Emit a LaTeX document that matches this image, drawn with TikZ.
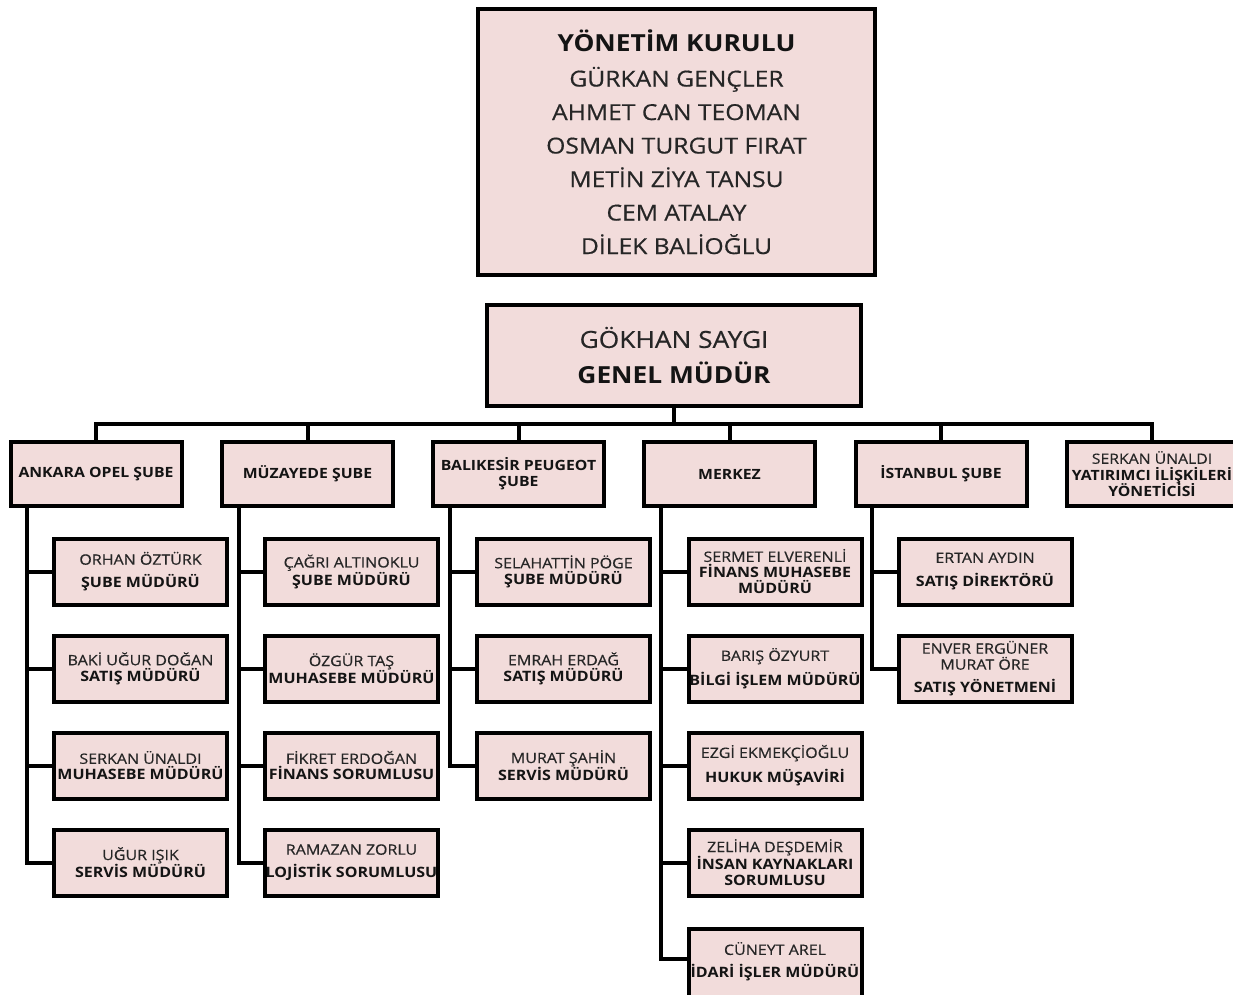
\documentclass[tikz,border=0pt]{standalone}
\usepackage{fontspec}
\setmainfont{Open Sans}[FakeStretch=1.12]
\definecolor{boxfill}{HTML}{F2DCDB}
\definecolor{nametext}{HTML}{262626}
\definecolor{titletext}{HTML}{141414}
\newcommand\pname[1]{{\addfontfeature{FakeBold=0.5}\color{nametext}#1}}
\newcommand\ptitle[1]{{\bfseries #1}}
\begin{document}
\begin{tikzpicture}[x=1pt,y=-1pt,
  box/.style={draw=black, line width=4pt, fill=boxfill, inner sep=0pt, align=center, text=titletext},
  topbox/.style={box, minimum width=397pt, minimum height=266pt, font=\fontsize{22}{33.5}\selectfont},
  gmbox/.style={box, minimum width=374pt, minimum height=101pt, font=\fontsize{23.5}{36}\selectfont},
  unitbox/.style={box, minimum width=171pt, minimum height=64pt, font=\fontsize{14.1}{16}\selectfont\bfseries},
  staffbox/.style={box, minimum width=173pt, minimum height=66pt, font=\fontsize{14.3}{16}\selectfont},
  conn/.style={draw=black, line width=4pt}]
\useasboundingbox (0,0) rectangle (1233,994);
\fill[white] (0,0) rectangle (1233,994);

% board
\node[topbox] (board) at (676.5,142) {{\fontsize{23.5}{33.5}\selectfont\ptitle{YÖNETİM KURULU}}\\[1.5pt]
  \pname{GÜRKAN GENÇLER}\\ \pname{AHMET CAN TEOMAN}\\ \pname{OSMAN TURGUT FIRAT}\\
  \pname{METİN ZİYA TANSU}\\ \pname{CEM ATALAY}\\ \pname{DİLEK BALİOĞLU}};

% general manager
\node[gmbox] (gm) at (674,355.5) {\pname{GÖKHAN SAYGI}\\ \ptitle{GENEL MÜDÜR}};

% units
\node[unitbox] (ank) at (96,474) {ANKARA OPEL ŞUBE};
\node[unitbox] (muz) at (307.5,474) {MÜZAYEDE ŞUBE};
\node[unitbox] (bal) at (518.5,474) {BALIKESİR PEUGEOT\\ŞUBE};
\node[unitbox] (mer) at (729.5,474) {MERKEZ};
\node[unitbox] (ist) at (941,474) {İSTANBUL ŞUBE};
\node[unitbox] (srk) at (1152,474) {\pname{\mdseries SERKAN ÜNALDI}\\[0.5pt]YATIRIMCI İLİŞKİLERİ\\[-1pt]YÖNETİCİSİ};

% Ankara staff
\node[staffbox] (a1) at (140.5,571.5) {\pname{ORHAN ÖZTÜRK}\\[7pt]\ptitle{ŞUBE MÜDÜRÜ}};
\node[staffbox] (a2) at (140.5,668.5) {\pname{BAKİ UĞUR DOĞAN}\\\ptitle{SATIŞ MÜDÜRÜ}};
\node[staffbox] (a3) at (140.5,765.5) {\pname{SERKAN ÜNALDI}\\\ptitle{MUHASEBE MÜDÜRÜ}};
\node[staffbox] (a4) at (140.5,862.5) {\pname{UĞUR IŞIK}\\\ptitle{SERVİS MÜDÜRÜ}};

% Muzayede staff
\node[staffbox] (m1) at (351.5,571.5) {\pname{ÇAĞRI ALTINOKLU}\\\ptitle{ŞUBE MÜDÜRÜ}};
\node[staffbox] (m2) at (351.5,668.5) {\pname{ÖZGÜR TAŞ}\\\ptitle{MUHASEBE MÜDÜRÜ}};
\node[staffbox] (m3) at (351.5,765.5) {\pname{FİKRET ERDOĞAN}\\\ptitle{FİNANS SORUMLUSU}};
\node[staffbox] (m4) at (351.5,862.5) {\pname{RAMAZAN ZORLU}\\[7pt]\ptitle{LOJİSTİK SORUMLUSU}};

% Balikesir staff
\node[staffbox] (b1) at (563.5,571.5) {\pname{SELAHATTİN PÖGE}\\\ptitle{ŞUBE MÜDÜRÜ}};
\node[staffbox] (b2) at (563.5,668.5) {\pname{EMRAH ERDAĞ}\\\ptitle{SATIŞ MÜDÜRÜ}};
\node[staffbox] (b3) at (563.5,765.5) {\pname{MURAT ŞAHİN}\\\ptitle{SERVİS MÜDÜRÜ}};

% Merkez staff
\node[staffbox] (c1) at (775,571.5) {\pname{SERMET ELVERENLİ}\\\ptitle{FİNANS MUHASEBE}\\\ptitle{MÜDÜRÜ}};
\node[staffbox] (c2) at (775,668.5) {\pname{BARIŞ ÖZYURT}\\[7pt]\ptitle{BİLGİ İŞLEM MÜDÜRÜ}};
\node[staffbox] (c3) at (775,765.5) {\pname{EZGİ EKMEKÇİOĞLU}\\[7pt]\ptitle{HUKUK MÜŞAVİRİ}};
\node[staffbox] (c4) at (775,862.5) {\pname{ZELİHA DEŞDEMİR}\\\ptitle{İNSAN KAYNAKLARI}\\\ptitle{SORUMLUSU}};
\node[staffbox, minimum height=74pt] (c5) at (775,966) {\pname{CÜNEYT AREL}\\[7pt]\ptitle{İDARİ İŞLER MÜDÜRÜ}\\[-4pt]};

% Istanbul staff
\node[staffbox] (i1) at (985,571.5) {\pname{ERTAN AYDIN}\\[8pt]\ptitle{SATIŞ DİREKTÖRÜ}};
\node[staffbox] (i2) at (985,668.5) {\pname{ENVER ERGÜNER}\\\pname{MURAT ÖRE}\\[7pt]\ptitle{SATIŞ YÖNETMENİ}};

% bus
\coordinate (busL) at ([yshift=16pt]ank.north);
\draw[conn] (ank.north) -- (busL) -| (srk.north);
\draw[conn] (gm.south) -- (gm.south |- busL);
\foreach \u in {muz,bal,mer,ist}
  \draw[conn] (\u.north) -- (\u.north |- busL);

% spines
\coordinate (ankS) at ([xshift=-69pt]ank.south);
\coordinate (muzS) at ([xshift=-69pt]muz.south);
\coordinate (balS) at ([xshift=-69pt]bal.south);
\coordinate (merS) at ([xshift=-69pt]mer.south);
\coordinate (istS) at ([xshift=-69pt]ist.south);

\draw[conn] (ankS) |- (a4.west);
\foreach \n in {a1,a2,a3} \draw[conn] (\n.west) -- (\n.west -| ankS);
\draw[conn] (muzS) |- (m4.west);
\foreach \n in {m1,m2,m3} \draw[conn] (\n.west) -- (\n.west -| muzS);
\draw[conn] (balS) |- (b3.west);
\foreach \n in {b1,b2} \draw[conn] (\n.west) -- (\n.west -| balS);
\draw[conn] (merS) |- ([yshift=7pt]c5.west);
\foreach \n in {c1,c2,c3,c4} \draw[conn] (\n.west) -- (\n.west -| merS);
\draw[conn] (istS) |- (i2.west);
\draw[conn] (i1.west) -- (i1.west -| istS);
\end{tikzpicture}
\end{document}
